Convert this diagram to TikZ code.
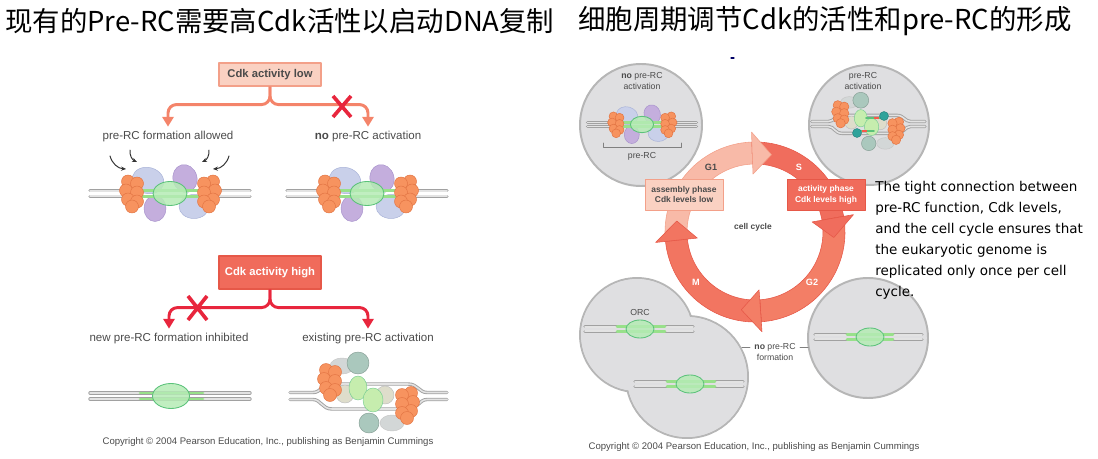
\documentclass[tikz,border=0pt]{standalone}
\usepackage{fontspec}
\setmainfont{Liberation Sans}
\newfontfamily\cjk{Noto Sans CJK SC}
\newfontfamily\comic{DejaVu Sans}
\usetikzlibrary{arrows.meta}
% Màu
\definecolor{cam}{HTML}{F7935F}
\definecolor{camvien}{HTML}{E27443}
\definecolor{xanhtim}{HTML}{C9D0EA}
\definecolor{xanhtimvien}{HTML}{A9B3D8}
\definecolor{tim}{HTML}{C4AEDD}
\definecolor{timvien}{HTML}{A893CC}
\definecolor{luc}{HTML}{B5EBB5}
\definecolor{lucvien}{HTML}{5BC27A}
\definecolor{lucday}{HTML}{98E08A}
\definecolor{xam}{HTML}{DFDFE1}
\definecolor{xamvien}{HTML}{B6B6B6}
\definecolor{hongnhat}{HTML}{FAD1C2}
\definecolor{hongvien}{HTML}{F3A089}
\definecolor{camdo}{HTML}{F4846A}
\definecolor{dotuoi}{HTML}{F06B5B}
\definecolor{dovien}{HTML}{E65848}
\definecolor{doso}{HTML}{E8263D}
\definecolor{chu}{HTML}{4A4A4A}
\definecolor{lam}{HTML}{2FA39B}
\definecolor{lamxam}{HTML}{AAC8BD}
\definecolor{be}{HTML}{DEDDCB}
\definecolor{lucnhat}{HTML}{C6EDAE}
\definecolor{xamnhat}{HTML}{D3D7D7}
% Cặp ADN: x1, x2, y, nửa khoảng cách
\newcommand{\adn}[4]{%
  \draw[adnvien] (#1,#3-#4) -- (#2,#3-#4) (#1,#3+#4) -- (#2,#3+#4);
  \draw[adnlong] (#1,#3-#4) -- (#2,#3-#4) (#1,#3+#4) -- (#2,#3+#4);}
% ADN có ORC
\newcommand{\adnorc}[9]{%
  \adn{#1}{#2}{#3}{#4}
  \draw[bangluc] (#5,#3-#4) -- (#6,#3-#4) (#5,#3+#4) -- (#6,#3+#4);
  \filldraw[orc] (#7,#3) ellipse [x radius=#8,y radius=#9];}
% Chùm protein cam
\newcommand{\chumcam}[3]{%
  \foreach \dx/\dy in {-4/-12,5/-10,-6/-3,5/-1,-4/6,5/8,0/13}
    \filldraw[protcam] (#1+#3*\dx,#2+\dy) circle (6.5);}
% pre-RC: x, y, tỉ lệ, nửa độ dài ADN
\newcommand{\preRC}[4]{%
\begin{scope}[shift={(#1,#2)},scale=#3]
  \filldraw[protxanh,rotate around={-15:(-22,-13)}] (-22,-13) ellipse [x radius=16,y radius=13];
  \filldraw[prottim] (-15,15) ellipse [x radius=11,y radius=13];
  \filldraw[prottim,rotate around={15:(15,-15)}] (15,-15) ellipse [x radius=12,y radius=14];
  \filldraw[protxanh] (24,13) ellipse [x radius=15,y radius=12];
  \adn{-#4}{#4}{0}{2.7}
  \draw[bangluc] (-30,-2.7) -- (32,-2.7) (-30,2.7) -- (32,2.7);
  \filldraw[orc] (0,0) ellipse [x radius=17,y radius=12];
  \chumcam{-38}{0}{1}
  \chumcam{39}{0}{-1}
\end{scope}}
% pre-RC đã hoạt hóa: x, y, tỉ lệ
\newcommand{\bongRC}[3]{%
\begin{scope}[shift={(#1,#2)},scale=#3]
  \filldraw[protxam] (-26,-30) ellipse [x radius=12,y radius=8];
  \filldraw[protxam] (24,27) ellipse [x radius=12,y radius=8];
  \filldraw[protlamxam] (-10,-33) circle (11);
  \filldraw[protlamxam] (1,27) circle (10);
  \foreach \st in {adnvien,adnlong}{
    \draw[\st] (-78,-3.5) -- (-55,-3.5) .. controls (-47,-3.5) and (-46,-12) .. (-36,-12)
      -- (40,-12) .. controls (50,-12) and (51,-3.5) .. (59,-3.5) -- (79,-3.5);
    \draw[\st] (-78,3.5) -- (-55,3.5) .. controls (-47,3.5) and (-46,13) .. (-36,13)
      -- (40,13) .. controls (50,13) and (51,3.5) .. (59,3.5) -- (79,3.5);}
  \filldraw[protbe] (-23,-2) circle (9);
  \filldraw[protbe] (17,-1) circle (9);
  \filldraw[protluc] (-10,-8) ellipse [x radius=9,y radius=12];
  \filldraw[protluc] (5,4) ellipse [x radius=10,y radius=12];
  \chumcam{-38}{-14}{1}
  \chumcam{39}{9}{-1}
\end{scope}}
\begin{document}
\begin{tikzpicture}[x=0.025cm,y=-0.025cm,line join=round,line cap=round,
  >={Triangle[length=7pt,width=8pt]},
  tieude/.style={anchor=west,inner sep=0pt,font=\cjk\fontsize{19.5}{24}\selectfont},
  nhan/.style={text=chu,font=\fontsize{8.2}{10}\selectfont},
  nhannho/.style={text=chu,align=center,inner sep=0pt,font=\fontsize{6.2}{7.8}\selectfont},
  hop/.style={minimum width=2.55cm,inner sep=0pt,line width=0.8pt,font=\bfseries\fontsize{8}{10}\selectfont},
  hoplow/.style={hop,minimum height=0.575cm,fill=hongnhat,draw=hongvien,text=chu},
  hophigh/.style={hop,minimum height=0.825cm,fill=dotuoi,draw=dovien,text=white},
  hopchu/.style={minimum width=1.95cm,minimum height=0.775cm,inner sep=0pt,align=center,line width=0.6pt,
    font=\bfseries\fontsize{6}{7.8}\selectfont},
  nhanh/.style={->,draw=#1,line width=2.1pt,rounded corners=6pt,line cap=butt},
  dauX/.style={draw=doso,line width=2.6pt,line cap=butt},
  muicong/.style={-{Stealth[length=3.5pt,width=3pt]},line width=0.7pt,black!80},
  adnvien/.style={draw=black!37,line width=2.4pt},
  adnlong/.style={draw=black!11,line width=1.1pt},
  bangluc/.style={draw=lucday,line width=2.1pt},
  orc/.style={fill=luc,draw=lucvien,line width=0.6pt,fill opacity=0.85},
  protcam/.style={fill=cam,draw=camvien,line width=0.35pt},
  protxanh/.style={fill=xanhtim,draw=xanhtimvien,line width=0.35pt},
  prottim/.style={fill=tim,draw=timvien,line width=0.35pt},
  protxam/.style={fill=xamnhat,draw=black!22,line width=0.35pt},
  protlamxam/.style={fill=lamxam,draw=lamxam!80!black,line width=0.35pt},
  protbe/.style={fill=be,draw=black!25,line width=0.35pt},
  protluc/.style={fill=lucnhat,draw=lucvien!80,line width=0.35pt},
  te/.style={fill=xam,draw=xamvien,line width=1.4pt},
  ngoac/.style={draw=black!50,line width=0.6pt},
  cG1/.style={fill=hongnhat!70!camdo,draw=hongvien,line width=0.4pt},
  cS/.style={fill=dotuoi!90!camdo,draw=dovien,line width=0.4pt},
  cG2/.style={fill=camdo!75!dotuoi,draw=dovien,line width=0.4pt},
  cM/.style={fill=dotuoi!60!camdo,draw=dovien,line width=0.4pt},
  pha/.style={text=white,font=\bfseries\fontsize{6.5}{8}\selectfont},
  banquyen/.style={text=chu,font=\fontsize{6.8}{8}\selectfont}]
\useasboundingbox (0,0) rectangle (1098,459);
% Tiêu đề
\node[tieude] (tdtrai) at (5,21) {现有的Pre-RC需要高Cdk活性以启动DNA复制};
\node[tieude] (tdphai) at (578,21) {细胞周期调节Cdk的活性和pre-RC的形成};
% Hình trái: Cdk thấp
\node[hoplow] (lowbox) at (270,74.5) {Cdk activity low};
\node[nhan] (allow) at (168,137) {pre-RC formation allowed};
\node[nhan] (noact) at (368,137) {\textbf{no} pre-RC activation};
\draw[nhanh=camdo] (lowbox.south) -- ++(0,18) -| (allow.north);
\draw[nhanh=camdo] (lowbox.south) -- ++(0,18) -| (noact.north);
\draw[dauX] (333,96) -- (351,117) (351,96) -- (333,117);
\preRC{170}{193.5}{1}{80}
\preRC{367}{193.5}{1}{80}
\draw[muicong] (110,156) to[bend right=35] (126,169);
\draw[muicong] (130,150) to[bend right=35] (137,162);
\draw[muicong] (229,156) to[bend left=35] (213,169);
\draw[muicong] (209,150) to[bend left=35] (202,162);
% Hình trái: Cdk cao
\node[hophigh] (highbox) at (270,272.5) {Cdk activity high};
\node[nhan] (inhib) at (169,339) {new pre-RC formation inhibited};
\node[nhan] (exist) at (368,339) {existing pre-RC activation};
\draw[nhanh=doso] (highbox.south) -- ++(0,18) -| (inhib.north);
\draw[nhanh=doso] (highbox.south) -- ++(0,18) -| (exist.north);
\draw[dauX] (188,296) -- (207,320) (207,296) -- (188,320);
\adnorc{90}{250}{396}{3}{140}{203}{171}{18.5}{12.5}
\bongRC{368}{396}{1}
\node[banquyen] (bqtrai) at (268,442) {Copyright © 2004 Pearson Education, Inc., publishing as Benjamin Cummings};
% Hình phải: các tế bào
\draw[blue!40!black,line width=0.8pt] (731,58) -- (734,58);
\filldraw[te] (641,125) circle (61);
\filldraw[te] (869,125) circle (60);
\filldraw[te] (868,338) circle (60);
\draw[te] (637,335) circle (57) (687,377) circle (61);
\fill[xam] (637,335) circle (56) (687,377) circle (60);
% Tế bào trên trái
\node[nhannho] (noactC) at (642,81) {\textbf{no} pre-RC\\activation};
\preRC{642}{124.5}{0.68}{80}
\draw[ngoac] (603,143) -- (603,147) -- (681,147) -- (681,143);
\node[nhannho] (preRC) at (642,156) {pre-RC};
% Tế bào trên phải
\node[nhannho] (actC) at (863,81) {pre-RC\\activation};
\bongRC{868}{124}{0.72}
\draw[lucvien,line width=1.2pt] (866,118) -- (880,118) (859,131) -- (874,131);
\draw[camdo!70!red,line width=1.2pt,line cap=butt] (874,118) -- (879,118) (862,131) -- (867,131);
\filldraw[fill=lam,draw=lam!80!black,line width=0.3pt] (884,116) circle (4.5) (857,133) circle (4.5);
% Tế bào dưới
\node[nhannho] (orcL) at (640,312) {ORC};
\adnorc{585}{693}{329}{2.2}{617}{665}{640}{14}{9}
\adnorc{635}{743}{384}{2.2}{667}{715}{690}{14}{9}
\adnorc{815}{922}{337}{2.2}{847}{893}{870}{14}{9}
\node[nhannho] (nopre) at (775,347) {\textbf{no} pre-RC};
\node[nhannho] (noform) at (775,357) {formation};
\draw[ngoac] ([xshift=-3pt]nopre.west) -- ++(-8,0);
\draw[ngoac] ([xshift=3pt]nopre.east) -- ++(8,0);
% Chu kỳ tế bào
\begin{scope}[shift={(755,232)},y=0.025cm]
  \def\Rin{68} \def\Rout{90} \def\Rmid{79} \def\Hin{58} \def\Hout{100}
  \foreach \a/\b/\mau in {186/92/cG1,92/10/cS,10/-86/cG2,-86/-174/cM}
    \filldraw[\mau] (\a:\Rout) arc[start angle=\a,end angle=\b,radius=\Rout]
      -- (\b:\Rin) arc[start angle=\b,end angle=\a,radius=\Rin] -- cycle;
  \foreach \b/\mau in {92/cG1,10/cS,-86/cG2,-174/cM}
    \filldraw[\mau] (\b:\Hout) -- ({\b-14}:\Rmid) -- (\b:\Hin) -- cycle;
\end{scope}
\node[pha,text=chu] (g1) at (711,167) {G1};
\node[pha] (s) at (799,167) {S};
\node[pha] (m) at (696,282) {M};
\node[pha] (g2) at (812,282) {G2};
\node[nhannho,font=\bfseries\fontsize{6}{7.8}\selectfont] (cc) at (753,227) {cell cycle};
\node[hopchu,fill=hongnhat,draw=hongvien,text=chu] (asm) at (684,194.5) {assembly phase\\Cdk levels low};
\node[hopchu,fill=dotuoi,draw=dovien,text=white] (actv) at (826,194.5) {activity phase\\Cdk levels high};
% Đoạn văn
\node[anchor=north west,inner sep=0pt,align=left,font=\comic\fontsize{9.6}{14.9}\selectfont] (doan) at (875,181)
  {The tight connection between\\pre-RC function, Cdk levels,\\and the cell cycle ensures that\\the eukaryotic genome is\\replicated only once per cell\\cycle.};
\node[banquyen] (bqphai) at (754,447) {Copyright © 2004 Pearson Education, Inc., publishing as Benjamin Cummings};
\end{tikzpicture}
\end{document}
